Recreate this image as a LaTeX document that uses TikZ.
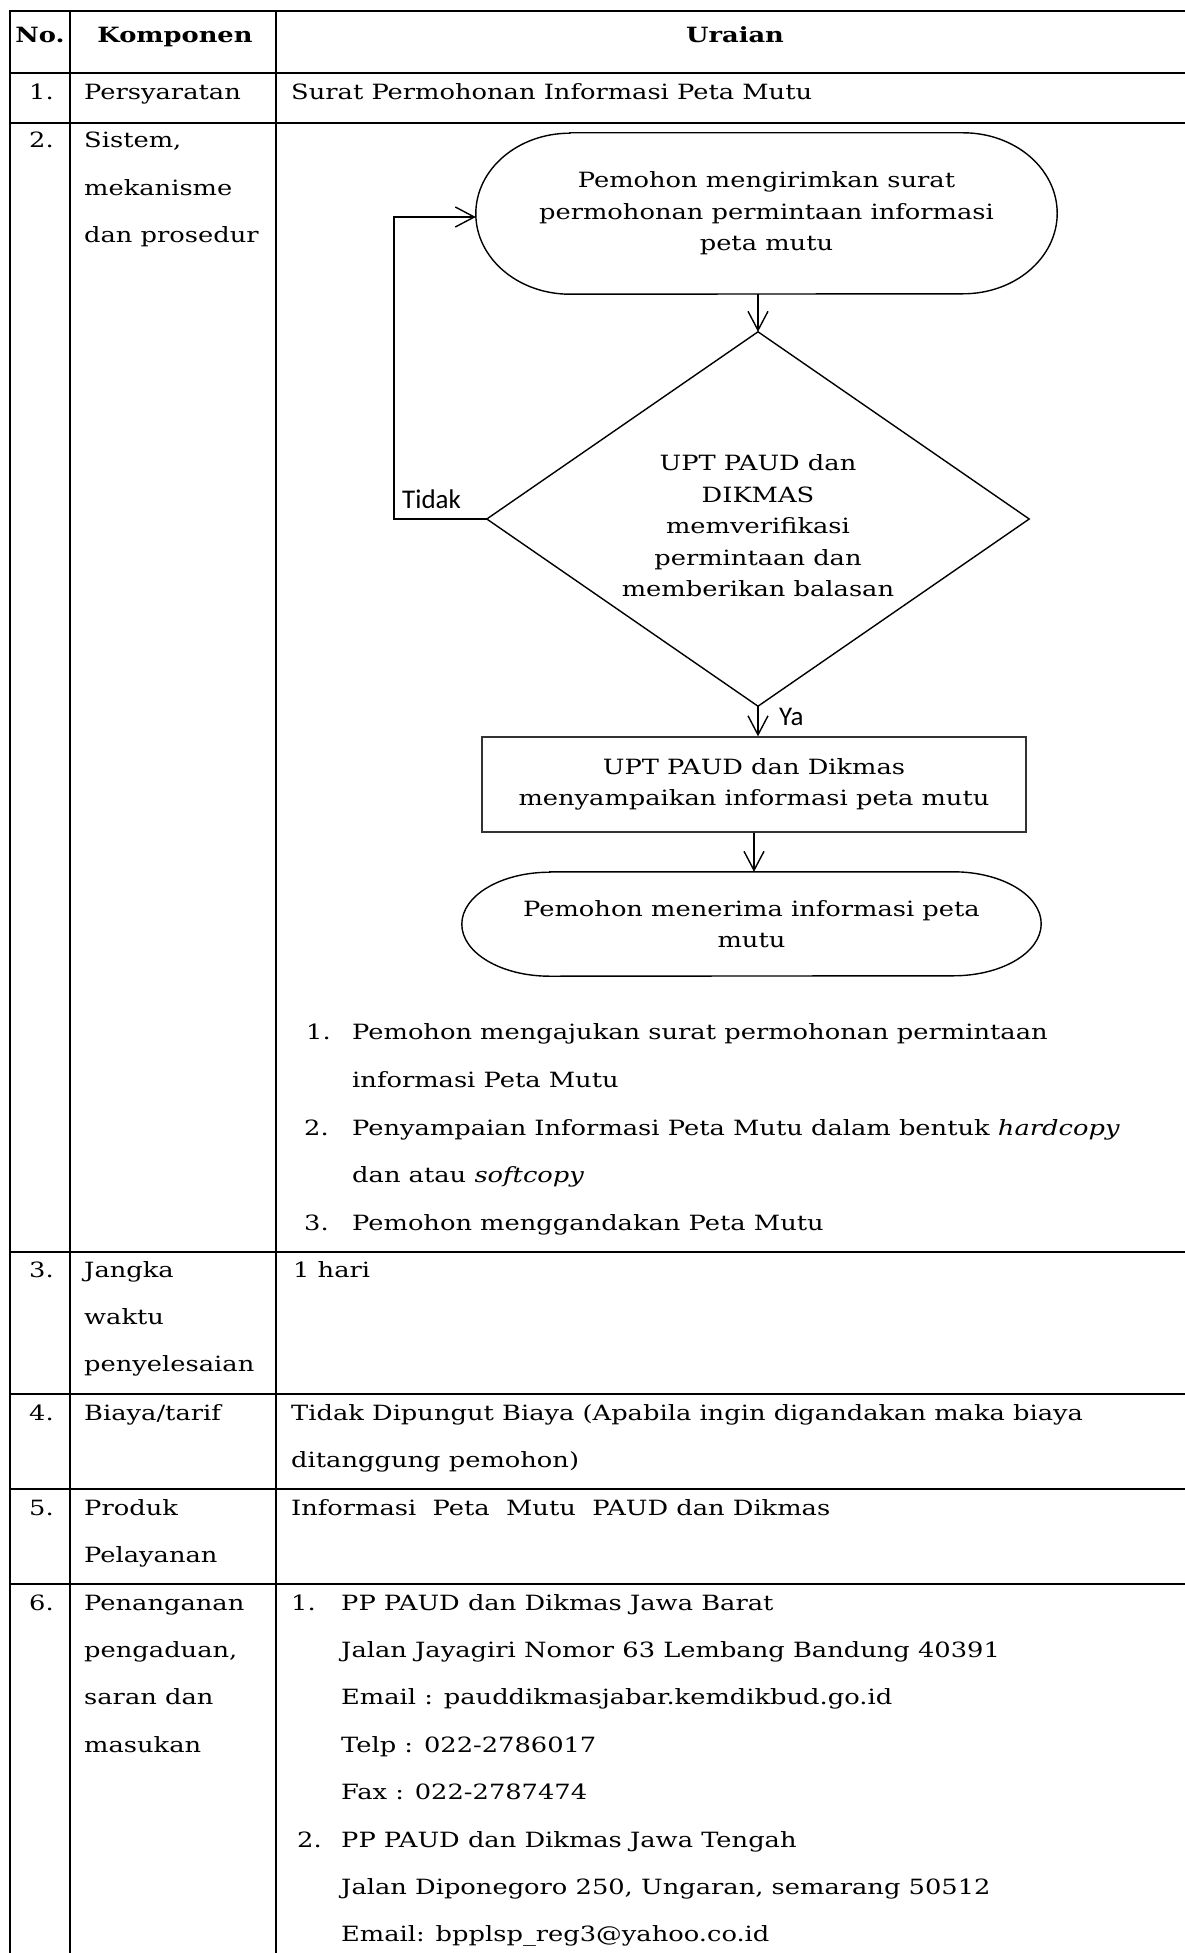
\documentclass[tikz,border=0pt]{standalone}
\usepackage{fontspec}
\setmainfont[FakeStretch=1.225]{DejaVu Serif}
\newfontfamily\labelfont{Carlito}
\usetikzlibrary{shapes.geometric,arrows.meta,calc}

\newcommand\cellsize{\fontsize{21}{31.5}\selectfont}
\newcommand\labelsize{\labelfont\fontsize{27}{32}\selectfont}

% terminator outline with elliptical ends, drawn over a named node
\newcommand\stadiumoutline[3]{%
  \draw[flowline] ($(#1.north west)+(#2,0)$) -- ($(#1.north east)+(-#2,0)$)
    arc[start angle=90,end angle=-90,x radius=#2pt,y radius=#3pt]
    -- ($(#1.south west)+(#2,0)$)
    arc[start angle=270,end angle=90,x radius=#2pt,y radius=#3pt] -- cycle;}

\tikzset{
  grid/.style={line width=2pt, line cap=rect},
  flowline/.style={line width=1.4pt},
  arrowline/.style={flowline, -{Straight Barb[length=19pt,width=20pt]}},
  cell/.style={anchor=base west, inner sep=0pt, font=\cellsize},
  cellc/.style={anchor=base, inner sep=0pt, font=\cellsize},
  flowtext/.style={align=center, inner sep=0pt, font=\cellsize},
  yesno/.style={anchor=base west, inner sep=0pt, font=\labelsize},
}

\begin{document}
\begin{tikzpicture}[x=1pt,y=1pt]
\useasboundingbox (0,0) rectangle (1184,-1953);
\fill[white] (0,0) rectangle (1184,-1953);

% ---- table rules ----
\foreach \yy in {11,73,123,1252,1394,1489,1584}
  \draw[grid] (10,-\yy) -- (1184,-\yy);
\foreach \xx in {10,70,276}
  \draw[grid] (\xx,-11) -- (\xx,-1953);

% ---- header ----
\node[cellc] (hno)   at (40,-43)  {\textbf{No.}};
\node[cellc] (hkomp) at (175,-43) {\textbf{Komponen}};
\node[cellc] (hura)  at (735,-43) {\textbf{Uraian}};

% ---- row 1 ----
\node[cell] (n1) at (29,-100) {1.};
\node[cell] (k1) at (84,-100) {Persyaratan};
\node[cell] (u1) at (291,-100) {Surat Permohonan Informasi Peta Mutu};

% ---- row 2 ----
\node[cell] (n2) at (29,-148) {2.};
\foreach \t [count=\i] in {{Sistem,},{mekanisme},{dan prosedur}}
  \node[cell] (k2-\i) at (84,{-148-47.5*(\i-1)}) {\t};

% flowchart
\node[flowtext, minimum width=581pt, minimum height=161pt] (A) at (766.5,-213.5)
  {Pemohon mengirimkan surat\\permohonan permintaan informasi\\peta mutu};
\stadiumoutline{A}{94}{80.5}

\node[flowtext, minimum width=542pt, minimum height=374pt] (D) at (758,-519)
  {\rule{0pt}{30pt}UPT PAUD dan\\DIKMAS\\memverifikasi\\permintaan dan\\memberikan balasan};
\draw[flowline] (D.north) -- (D.east) -- (D.south) -- (D.west) -- cycle;

\node[draw=black!80, flowline, flowtext, minimum width=544pt, minimum height=95pt] (B) at (754,-784.5)
  {UPT PAUD dan Dikmas\\menyampaikan informasi peta mutu};

\node[flowtext, minimum width=579pt, minimum height=104pt] (E) at (751.5,-924)
  {Pemohon menerima informasi peta\\mutu};
\stadiumoutline{E}{88}{52}

\coordinate (loop) at (394,-217);
\draw[arrowline] (A.south -| D.north) -- (D.north);
\draw[arrowline] (D.west) -- (D.west -| loop) -- (loop) -- (loop -| A.west);
\draw[arrowline] (D.south) -- (B.north -| D.south);
\draw[arrowline] (B.south) -- (E.north -| B.south);

\node[yesno] (tidak) at (402,-508) {Tidak};
\node[yesno] (ya) at (779,-725) {Ya};

% steps
\node[cell] (s1n) at (306,-1039)   {1.};
\node[cell] (s1a) at (352,-1039)   {Pemohon mengajukan surat permohonan permintaan};
\node[cell] (s1b) at (352,-1087.5) {informasi Peta Mutu};
\node[cell] (s2n) at (304,-1135.2) {2.};
\node[cell] (s2a) at (352,-1135.2) {Penyampaian Informasi Peta Mutu dalam bentuk \textit{hardcopy}};
\node[cell] (s2b) at (352,-1182.6) {dan atau \textit{softcopy}};
\node[cell] (s3n) at (304,-1230)   {3.};
\node[cell] (s3a) at (352,-1230)   {Pemohon menggandakan Peta Mutu};

% ---- row 3 ----
\node[cell] (n3) at (29,-1277) {3.};
\foreach \t [count=\i] in {{Jangka},{waktu},{penyelesaian}}
  \node[cell] (k3-\i) at (84,{-1277-47.4*(\i-1)}) {\t};
\node[cell] (u3) at (293,-1277) {1 hari};

% ---- row 4 ----
\node[cell] (n4) at (29,-1420) {4.};
\node[cell] (k4) at (84,-1420) {Biaya/tarif};
\node[cell] (u4a) at (291,-1420) {Tidak Dipungut Biaya (Apabila ingin digandakan maka biaya};
\node[cell] (u4b) at (291,-1467.4) {ditanggung pemohon)};

% ---- row 5 ----
\node[cell] (n5) at (29,-1515) {5.};
\node[cell] (k5-1) at (84,-1515) {Produk};
\node[cell] (k5-2) at (84,-1562.4) {Pelayanan};
\node[cell] (u5) at (291,-1515) {Informasi~~Peta~~Mutu~~PAUD dan Dikmas};

% ---- row 6 ----
\node[cell] (n6) at (29,-1610) {6.};
\foreach \t [count=\i] in {{Penanganan},{pengaduan,},{saran dan},{masukan}}
  \node[cell] (k6-\i) at (84,{-1610-47.4*(\i-1)}) {\t};
\node[cell] (c1n) at (291,-1610) {1.};
\foreach \t [count=\i] in {{PP PAUD dan Dikmas Jawa Barat},
    {Jalan Jayagiri Nomor 63 Lembang Bandung 40391},
    {Email : pauddikmasjabar.kemdikbud.go.id},
    {Telp : 022-2786017},
    {Fax : 022-2787474}}
  \node[cell] (c1-\i) at (341,{-1610-47.4*(\i-1)}) {\t};
\node[cell] (c2n) at (297,-1847) {2.};
\foreach \t [count=\i] in {{PP PAUD dan Dikmas Jawa Tengah},
    {Jalan Diponegoro 250, Ungaran, semarang 50512},
    {Email: bpplsp\_reg3@yahoo.co.id}}
  \node[cell] (c2-\i) at (341,{-1847-47.4*(\i-1)}) {\t};
\end{tikzpicture}
\end{document}
